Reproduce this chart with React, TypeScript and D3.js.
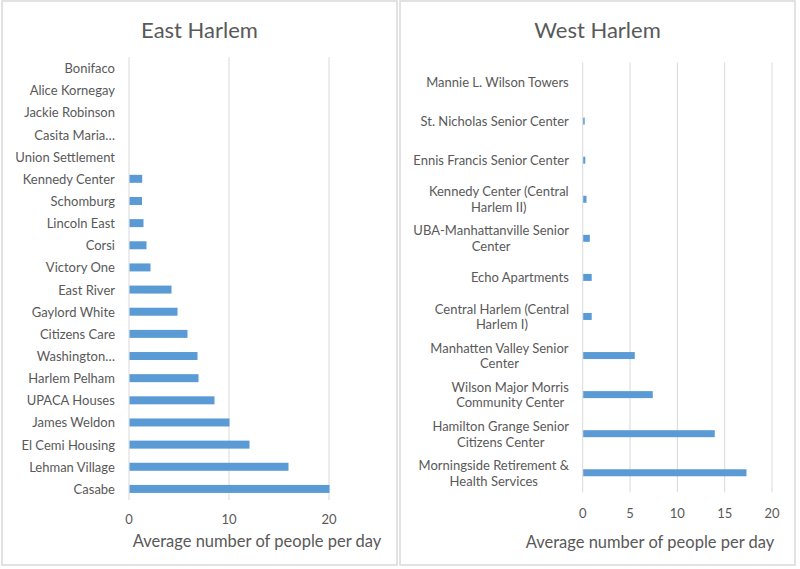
import React from "react";
import * as d3 from "d3";

const eastTitle = "East Harlem";
const eastCategories = [
  "Bonifaco",
  "Alice Kornegay",
  "Jackie Robinson",
  "Casita Maria…",
  "Union Settlement",
  "Kennedy Center",
  "Schomburg",
  "Lincoln East",
  "Corsi",
  "Victory One",
  "East River",
  "Gaylord White",
  "Citizens Care",
  "Washington…",
  "Harlem Pelham",
  "UPACA Houses",
  "James Weldon",
  "El Cemi Housing",
  "Lehman Village",
  "Casabe",
];
const eastValues = [0, 0, 0, 0, 0, 1.27, 1.25, 1.4, 1.7, 2.1, 4.2, 4.8, 5.8, 6.8, 6.9, 8.5, 10.0, 12.0, 15.9, 20.0];
const eastTicks = [0, 10, 20];

const westTitle = "West Harlem";
const westCategories = [
  "Mannie L. Wilson Towers",
  "St. Nicholas Senior Center",
  "Ennis Francis Senior Center",
  "Kennedy Center (Central\nHarlem II)",
  "UBA-Manhattanville Senior\nCenter",
  "Echo Apartments",
  "Central Harlem (Central\nHarlem I)",
  "Manhatten Valley Senior\nCenter",
  "Wilson Major Morris\nCommunity Center",
  "Hamilton Grange Senior\nCitizens Center",
  "Morningside Retirement &\nHealth Services",
];
const westValues = [0, 0.15, 0.22, 0.35, 0.7, 0.9, 0.9, 5.45, 7.35, 13.9, 17.25];
const westTicks = [0, 5, 10, 15, 20];

const axisTitle = "Average number of people per day";

const FONT = "Lato, 'Open Sans', sans-serif";
const TEXT = "#595959";
const GRID = "#d9d9d9";
const BAR = "#5b9bd5";
const LABEL_SIZE = 13;

let ctx: CanvasRenderingContext2D | null = null;
function measure(s: string, size: number): number {
  if (!ctx) {
    const c = document.createElement("canvas");
    ctx = c.getContext("2d");
  }
  if (!ctx) return s.length * size * 0.5;
  ctx.font = `${size}px Lato, 'Open Sans', sans-serif`;
  return ctx.measureText(s).width;
}

type PanelProps = {
  title: string;
  categories: string[];
  values: number[];
  ticks: number[];
  box: [number, number, number, number];
  xRange: [number, number];
  yRange: [number, number];
  barH: number;
  labelX: number;
  tickY: number;
  axisTitleY: number;
  axisTitleX: number;
  lineH: number;
};

function Panel(p: PanelProps) {
  const x = d3.scaleLinear().domain([0, 20]).range(p.xRange);
  const y = d3.scaleBand<string>().domain(p.categories).range(p.yRange).padding(0);
  const [bx, by, bw, bh] = p.box;
  return (
    <g>
      <rect x={bx} y={by} width={bw} height={bh} fill="#fff" stroke={GRID} strokeWidth={1.5} />
      <text
        x={bx + bw / 2}
        y={29}
        textAnchor="middle"
        dominantBaseline="central"
        fontSize={22}
        fill={TEXT}
        fontFamily={FONT}
      >
        {p.title}
      </text>
      {p.ticks.map((t) => (
        <line key={"g" + t} x1={x(t)} x2={x(t)} y1={p.yRange[0]} y2={p.yRange[1]} stroke={GRID} strokeWidth={1} />
      ))}
      {p.categories.map((c, i) => {
        const yc = (y(c) as number) + y.bandwidth() / 2;
        const v = p.values[i];
        const lines = c.split("\n");
        const maxW = Math.max(...lines.map((l) => measure(l, LABEL_SIZE)));
        const cx = p.labelX - maxW / 2;
        return (
          <g key={c}>
            {v > 0 && (
              <rect x={x(0) + 0.5} y={yc - p.barH / 2} width={Math.max(x(v) - x(0), 1.5)} height={p.barH} fill={BAR} />
            )}
            <text textAnchor="middle" fontSize={LABEL_SIZE} fill={TEXT} fontFamily={FONT} dominantBaseline="central">
              {lines.map((l, k) => (
                <tspan key={k} x={cx} y={yc + (k - (lines.length - 1) / 2) * p.lineH}>
                  {l}
                </tspan>
              ))}
            </text>
          </g>
        );
      })}
      {p.ticks.map((t) => (
        <text
          key={"t" + t}
          x={x(t)}
          y={p.tickY}
          textAnchor="middle"
          dominantBaseline="central"
          fontSize={13}
          fill={TEXT}
          fontFamily={FONT}
        >
          {t}
        </text>
      ))}
      <text
        x={p.axisTitleX}
        y={p.axisTitleY}
        textAnchor="middle"
        dominantBaseline="central"
        fontSize={16.5}
        fill={TEXT}
        fontFamily={FONT}
      >
        {axisTitle}
      </text>
    </g>
  );
}

export default function App() {
  return (
    <svg width={800} height={569} style={{ position: "absolute", left: 0, top: 0, background: "#fff" }}>
      <rect x={0} y={0} width={800} height={569} fill="#fff" />
      <Panel
        title={eastTitle}
        categories={eastCategories}
        values={eastValues}
        ticks={eastTicks}
        box={[2, 1, 395, 564]}
        xRange={[129, 329]}
        yRange={[57, 500]}
        barH={8}
        labelX={115}
        tickY={519}
        axisTitleY={541}
        axisTitleX={257}
        lineH={15.7}
      />
      <Panel
        title={westTitle}
        categories={westCategories}
        values={westValues}
        ticks={westTicks}
        box={[400, 1, 395, 564]}
        xRange={[582.7, 772]}
        yRange={[62.5, 492.3]}
        barH={7}
        labelX={569}
        tickY={513}
        axisTitleY={542}
        axisTitleX={650}
        lineH={15.7}
      />
    </svg>
  );
}
